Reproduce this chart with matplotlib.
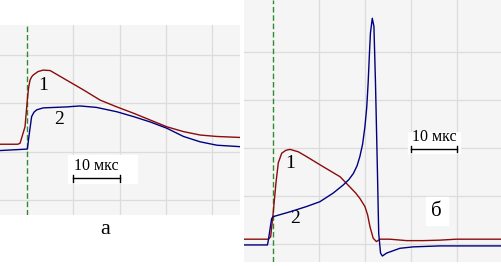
import matplotlib.pyplot as plt
from matplotlib.patches import Rectangle

# panel a: time in mks (0 at the trigger line), amplitude in grid units
a_t1 = [-5.8, -2.0, -1.5, -0.43, 0.07, 0.35, 0.65, 1.0, 1.36, 2.4, 3.5, 5.0, 8.6, 12.2, 15.8,
        19.4, 23.0, 26.6, 30.2, 33.8, 37.4, 41.0, 46.0]
a_v1 = [1.15, 1.15, 1.17, 1.51, 2.06, 2.32, 2.47, 2.54, 2.58, 2.65, 2.68, 2.67, 2.47, 2.27, 2.06,
        1.92, 1.79, 1.65, 1.51, 1.41, 1.34, 1.31, 1.29]
a_t2 = [-5.8, 0.07, 0.5, 1.0, 1.5, 2.1, 3.5, 8.6, 11.4, 15.0, 19.4, 23.0, 26.6, 30.2, 33.8,
        37.4, 41.0, 46.0]
a_v2 = [1.02, 1.05, 1.37, 1.72, 1.81, 1.86, 1.90, 1.92, 1.94, 1.91, 1.82, 1.72, 1.61, 1.48, 1.31,
        1.20, 1.13, 1.10]

# panel b
b_t1 = [-6.3, -1.0, -0.5, 0.0, 0.65, 1.16, 1.9, 2.8, 3.7, 5.5, 7.3, 10.9, 14.6, 16.7, 18.0,
        18.9, 20.0, 20.6, 21.1, 21.8, 22.5, 23.3, 25.4, 29.1, 32.7, 36.3, 39.9, 49.6]
b_v1 = [0.10, 0.10, 0.15, 0.60, 1.27, 1.69, 1.89, 1.95, 1.97, 1.92, 1.82, 1.61, 1.40, 1.19, 1.06,
        0.95, 0.78, 0.60, 0.36, 0.12, 0.05, 0.10, 0.10, 0.07, 0.07, 0.08, 0.10, 0.10]
b_t2 = [-6.3, -1.2, -1.0, -0.29, 0.07, 3.7, 7.3, 10.2, 13.1, 15.3, 16.5, 17.5, 18.3, 18.9, 19.5,
        20.0, 20.4, 20.7, 21.0, 21.2, 21.6, 21.96, 22.3, 22.7, 23.0, 23.4, 23.8, 24.7, 27.6, 30.5,
        36.3, 49.6]
b_v2 = [-0.02, -0.02, 0.08, 0.53, 0.57, 0.67, 0.78, 0.88, 1.06, 1.23, 1.34, 1.47, 1.63, 1.82, 2.08,
        2.44, 2.85, 3.35, 4.0, 4.39, 4.70, 4.53, 3.35, 1.61, 0.22, -0.19, -0.25, -0.19, -0.09, -0.06,
        -0.04, -0.04]

red = '#8b0a0a'
blue = '#000080'
serif = 'Liberation Serif'

fig = plt.figure(figsize=(5.01, 2.66), dpi=100)
ax1 = fig.add_axes([0, 51 / 266, 240 / 501, 190 / 266])
ax2 = fig.add_axes([244 / 501, 4 / 266, 257 / 501, 262 / 266])


def panel(ax, xlim, ylim, ny):
    ax.set_facecolor('#f5f5f5')
    ax.set_xlim(*xlim)
    ax.set_ylim(*ylim)
    for x in [10, 20, 30, 40]:
        ax.axvline(x, color='#dcdcdc', lw=0.9, zorder=0)
    for y in range(ny):
        ax.axhline(y, color='#dcdcdc', lw=0.9, zorder=0)
    ax.axvline(0, color='#2e8b2e', lw=1.0, ls=(0, (4, 2)), zorder=1)
    for s in ax.spines.values():
        s.set_visible(False)
    ax.set_xticks([])
    ax.set_yticks([])


def scalebar(ax, x0, y, ty, box):
    ax.add_patch(Rectangle((box[0], box[1]), box[2] - box[0], box[3] - box[1],
                           color='white', zorder=2))
    ax.plot([x0, x0 + 10], [y, y], color='black', lw=1.0, zorder=3)
    for xx in [x0, x0 + 10]:
        ax.plot([xx, xx], [y - 0.07, y + 0.07], color='black', lw=1.0, zorder=3)
    ax.text(x0 + 5, ty, '10 мкс', family=serif, fontsize=11.5, ha='center', va='center', zorder=3)


panel(ax1, (-5.83, 46.0), (-0.31, 3.61), 4)
ax1.plot(a_t1, a_v1, color=red, lw=1.0, zorder=4)
ax1.plot(a_t2, a_v2, color=blue, lw=1.0, zorder=4)
ax1.text(3.5, 2.36, '1', family=serif, fontsize=14, ha='center', va='center')
ax1.text(6.9, 1.65, '2', family=serif, fontsize=14, ha='center', va='center')
scalebar(ax1, 10, 0.45, 0.70, (8.9, 0.35, 23.8, 0.93))

panel(ax2, (-6.3, 49.6), (-0.375, 5.08), 5)
ax2.plot(b_t1, b_v1, color=red, lw=1.0, zorder=4)
ax2.plot(b_t2, b_v2, color=blue, lw=1.0, zorder=4)
ax2.text(3.7, 1.67, '1', family=serif, fontsize=14, ha='center', va='center')
ax2.text(4.8, 0.54, '2', family=serif, fontsize=14, ha='center', va='center')
scalebar(ax2, 30, 1.98, 2.23, (29.3, 1.9, 40.7, 2.33))
ax2.add_patch(Rectangle((33.3, 0.40), 4.7, 0.58, color='white', zorder=2))
ax2.text(35.6, 0.67, 'б', family=serif, fontsize=15, ha='center', va='center', zorder=3)

fig.text(105 / 501, 1 - 229 / 266, 'а', family=serif, fontsize=16, ha='center', va='center')

fig.savefig('out.png', dpi=100)
